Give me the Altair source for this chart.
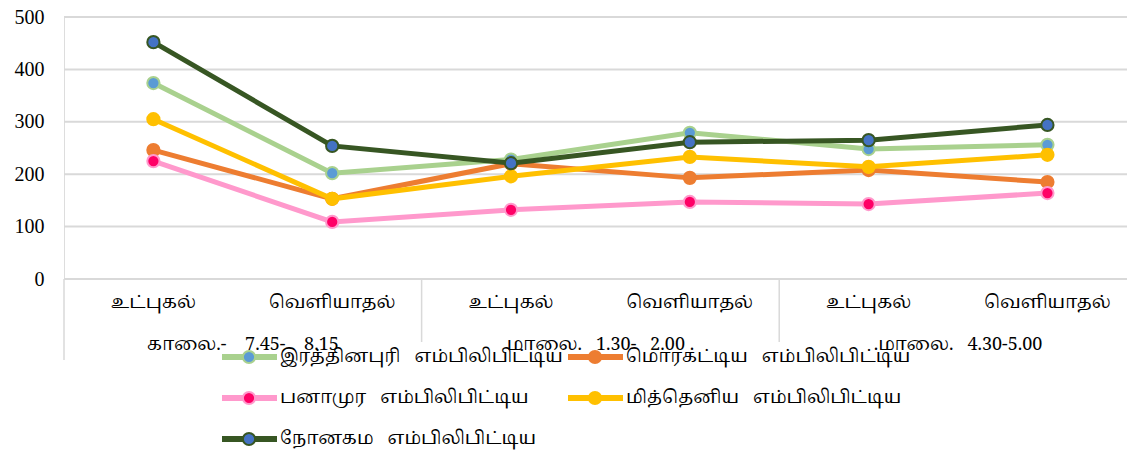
import altair as alt
import pandas as pd

# ---- data ----
NB = "\u00a0"
categories = ["உட்புகல்", "வெளியாதல்", "உட்புகல்", "வெளியாதல்", "உட்புகல்", "வெளியாதல்"]
groups = [
    "காலை.-" + NB * 4 + "7.45-" + NB * 4 + "8.15",
    "மாலை." + NB * 3 + "1.30-" + NB * 3 + "2.00" + NB + ".",
    ".மாலை." + NB * 3 + "4.30-5.00",
]
series_names = [
    "இரத்தினபுரி" + NB * 3 + "எம்பிலிபிட்டிய",
    "மொரகட்டிய" + NB * 3 + "எம்பிலிபிட்டிய",
    "பனாமுர" + NB * 3 + "எம்பிலிபிட்டிய",
    "மித்தெனிய" + NB * 3 + "எம்பிலிபிட்டிய",
    "நோனகம" + NB * 3 + "எம்பிலிபிட்டிய",
]
ratnapura = [374, 202, 228, 279, 248, 256]
morakattiya = [246, 153, 220, 193, 208, 185]
panamura = [225, 109, 132, 147, 143, 164]
mittheniya = [305, 153, 196, 233, 214, 237]
nonagama = [452, 254, 221, 261, 265, 294]
y_ticks = [0, 100, 200, 300, 400, 500]

line_colors = ["#A9D18E", "#ED7D31", "#FF99CC", "#FFC000", "#375623"]
point_fills = ["#5B9BD5", "#ED7D31", "#FF0066", "#FFC000", "#4472C4"]
point_strokes = ["#A9D18E", "#ED7D31", "#FF99CC", "#FFC000", "#375623"]

all_values = [ratnapura, morakattiya, panamura, mittheniya, nonagama]

FONT = "Liberation Serif"
TFONT = "Noto Serif Tamil, Latha, Liberation Serif"
TSIZE = 18
PLOT_W, PLOT_H = 1063, 262

xscale = alt.Scale(domain=[-0.5, 5.445], nice=False, zero=False)
yscale = alt.Scale(domain=[0, 500], nice=False)
yaxis = alt.Axis(values=y_ticks, grid=False, domain=False, ticks=False,
                 labelFont=FONT, labelFontSize=20, labelColor="#000000",
                 labelPadding=20, title=None)

layers = []

# gridlines + y axis (base)
grid_df = pd.DataFrame({"value": y_ticks})
layers.append(alt.Chart(grid_df).mark_rule(strokeWidth=2, color="#D9D9D9").encode(
    y=alt.Y("value:Q", scale=yscale, axis=yaxis),
    x=alt.value(0), x2=alt.value(PLOT_W + 10),
))

# separators between the category groups
for s, ln in zip([-0.5, 1.5, 3.5], [343, 325, 325]):
    layers.append(
        alt.Chart(pd.DataFrame({"s": [s]})).mark_rule(strokeWidth=1.5, color="#D9D9D9").encode(
            x=alt.X("s:Q", scale=xscale, axis=None),
            y=alt.value(PLOT_H), y2=alt.value(ln),
        )
    )

# category labels
cat_df = pd.DataFrame({"idx": list(range(6)), "label": categories})
layers.append(alt.Chart(cat_df).mark_text(font=TFONT, fontSize=TSIZE, baseline="middle", color="#000000").encode(
    x=alt.X("idx:Q", scale=xscale, axis=None),
    y=alt.value(PLOT_H + 24),
    text="label:N",
))

grp_df = pd.DataFrame({"pos": [0.5, 2.5, 4.5], "label": groups})
layers.append(alt.Chart(grp_df).mark_text(font=TFONT, fontSize=TSIZE, baseline="middle", color="#000000").encode(
    x=alt.X("pos:Q", scale=xscale, axis=None),
    y=alt.value(PLOT_H + 66),
    text="label:N",
))

# series: line then markers, series by series
for i, (name, vals) in enumerate(zip(series_names, all_values)):
    df = pd.DataFrame({"idx": list(range(6)), "value": vals, "series": name})
    layers.append(alt.Chart(df).mark_line(strokeWidth=5, color=line_colors[i]).encode(
        x=alt.X("idx:Q", scale=xscale, axis=None),
        y=alt.Y("value:Q", scale=yscale, axis=yaxis),
    ))
    layers.append(alt.Chart(df).mark_point(filled=True, shape="circle", size=150, fill=point_fills[i],
                                           stroke=point_strokes[i], strokeWidth=2, opacity=1).encode(
        x=alt.X("idx:Q", scale=xscale, axis=None),
        y=alt.Y("value:Q", scale=yscale, axis=yaxis),
    ))

# legend (custom, two columns)
leg_rows = []
for i, name in enumerate(series_names):
    col, row = i % 2, i // 2
    lx = 158 + col * 346
    ly = 340 + row * 41
    leg_rows.append({"series": name, "x0": lx, "x1": lx + 55, "xm": lx + 27, "xt": lx + 58, "y": ly,
                     "lc": line_colors[i], "pf": point_fills[i], "ps": point_strokes[i]})
leg_df = pd.DataFrame(leg_rows)
leg_line = alt.Chart(leg_df).mark_rule(strokeWidth=6).encode(
    x=alt.X("x0:Q", scale=None), x2="x1:Q", y=alt.Y("y:Q", scale=None),
    color=alt.Color("lc:N", scale=None),
)
leg_pt = alt.Chart(leg_df).mark_point(filled=True, shape="circle", size=150, strokeWidth=2, opacity=1).encode(
    x=alt.X("xm:Q", scale=None), y=alt.Y("y:Q", scale=None),
    fill=alt.Fill("pf:N", scale=None), stroke=alt.Stroke("ps:N", scale=None),
)
leg_txt = alt.Chart(leg_df).mark_text(font=TFONT, fontSize=TSIZE, align="left", baseline="middle", color="#000000").encode(
    x=alt.X("xt:Q", scale=None), y=alt.Y("y:Q", scale=None), text="series:N",
)
layers.extend([leg_line, leg_pt, leg_txt])

chart = alt.layer(*layers).properties(
    width=PLOT_W, height=PLOT_H,
    autosize=alt.AutoSizeParams(type="none"),
    padding={"left": 56, "top": 9, "right": 0, "bottom": 174},
).configure_view(stroke=None).configure(background="#FFFFFF")

chart.save("out.html", embed_options={"renderer": "svg", "actions": False})
